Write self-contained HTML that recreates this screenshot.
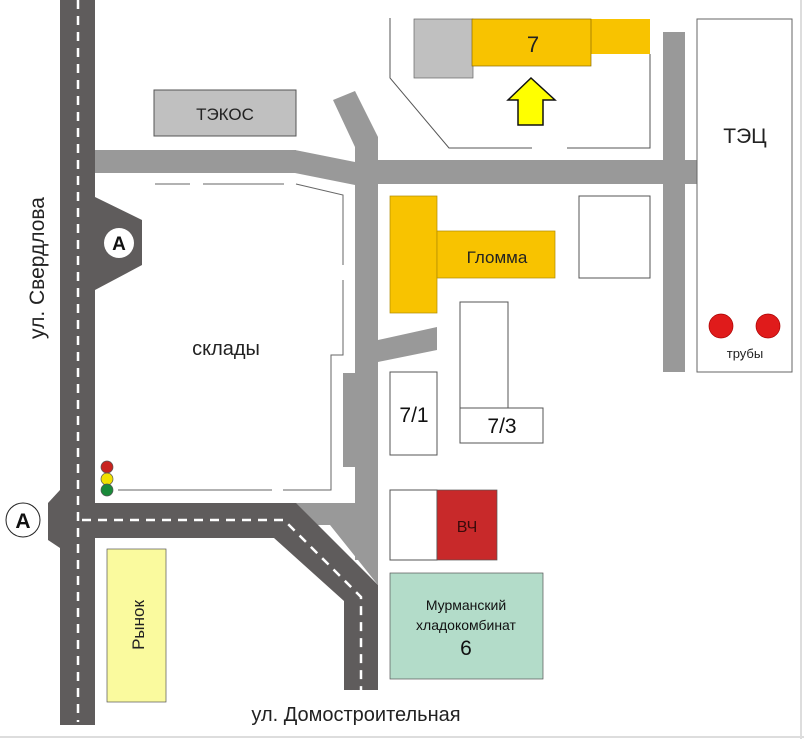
<!DOCTYPE html>
<html><head><meta charset="utf-8"><style>
html,body{margin:0;padding:0;background:#fff;width:804px;height:739px;overflow:hidden}
svg{display:block;font-family:"Liberation Sans",sans-serif}
</style></head><body>
<svg width="804" height="739" viewBox="0 0 804 739" xmlns="http://www.w3.org/2000/svg">
<rect x="0" y="0" width="804" height="739" fill="#fff"/>
<line x1="0" y1="737" x2="804" y2="737" stroke="#ddd" stroke-width="2"/>
<line x1="801" y1="0" x2="801" y2="739" stroke="#ddd" stroke-width="2"/>

<!-- light gray roads -->
<g fill="#999">
<rect x="95" y="150" width="201" height="23"/>
<polygon points="295,150 355,162 355,185 295,173"/>
<polygon points="333,100 355,91 378,137 378,560 355,560 355,147"/>
<rect x="378" y="160" width="342" height="24"/>
<rect x="663" y="32" width="22" height="340"/>
<polygon points="378,340 437,327 437,350 378,362"/>
<rect x="343" y="373" width="12" height="94"/>
<polygon points="295,503 378,503 378,585 330,525 295,525"/>
</g>

<!-- dark roads -->
<g fill="#5f5c5c">
<rect x="60" y="0" width="35" height="725"/>
<polygon points="60,490 48,503 48,540 60,548"/>
<polygon points="95,197 142,220 142,265 95,290"/>
<polygon points="95,503 296,503 378,585 378,690 344,690 344,601 274,538 95,538"/>
</g>
<g fill="none" stroke="#fff" stroke-width="2.5" stroke-dasharray="9,7">
<line x1="78" y1="0" x2="78" y2="722"/>
<polyline points="82,520 284,520 361,597 361,690"/>
</g>
<circle cx="119" cy="243" r="15" fill="#fff"/>
<text x="119" y="250" font-size="19" font-weight="bold" text-anchor="middle" fill="#111">А</text>
<circle cx="23" cy="520" r="17" fill="#fff" stroke="#222" stroke-width="1"/>
<text x="23" y="528" font-size="21" font-weight="bold" text-anchor="middle" fill="#111">А</text>

<!-- склады outline -->
<g fill="none" stroke="#666" stroke-width="1">
<line x1="155" y1="184" x2="190" y2="184"/>
<line x1="203" y1="184" x2="284" y2="184"/>
<polyline points="296,184 343,195 343,265"/>
<polyline points="343,280 343,355 331,355 331,490 283,490"/>
<line x1="272" y1="490" x2="118" y2="490"/>
</g>
<circle cx="107" cy="467" r="6" fill="#c8231f" stroke="#555" stroke-width="0.7"/>
<circle cx="107" cy="479" r="6" fill="#f2e100" stroke="#555" stroke-width="0.7"/>
<circle cx="107" cy="490" r="6" fill="#1a8a3a" stroke="#555" stroke-width="0.7"/>

<!-- buildings -->
<rect x="154" y="90" width="142" height="46" fill="#c0c0c0" stroke="#555"/>
<text x="225" y="120" font-size="17" text-anchor="middle" fill="#222">ТЭКОС</text>

<polyline points="390,18 390,78 449,148 532,148" fill="none" stroke="#555"/>
<polyline points="567,148 650,148 650,54" fill="none" stroke="#555"/>
<rect x="414" y="19" width="59" height="59" fill="#c0c0c0" stroke="#666" stroke-width="0.7"/>
<rect x="590" y="19" width="60" height="35" fill="#f8c300"/>
<rect x="472" y="19" width="119" height="47" fill="#f8c300" stroke="#8a6b00" stroke-width="0.7"/>
<text x="533" y="52" font-size="22" text-anchor="middle" fill="#222">7</text>
<polygon points="531,78 555,100 543,100 543,125 518,125 518,100 508,100" fill="#ffff00" stroke="#111" stroke-width="1.5"/>

<rect x="697" y="19" width="95" height="353" fill="#fff" stroke="#666"/>
<text x="745" y="143" font-size="21" text-anchor="middle" fill="#222">ТЭЦ</text>
<circle cx="721" cy="326" r="12" fill="#e01b1b" stroke="#a00" stroke-width="0.7"/>
<circle cx="768" cy="326" r="12" fill="#e01b1b" stroke="#a00" stroke-width="0.7"/>
<text x="745" y="358" font-size="13" text-anchor="middle" fill="#222">трубы</text>

<rect x="390" y="196" width="47" height="117" fill="#f8c300" stroke="#b08a00" stroke-width="0.7"/>
<rect x="437" y="231" width="118" height="47" fill="#f8c300" stroke="#b08a00" stroke-width="0.7"/>
<text x="497" y="263" font-size="17" text-anchor="middle" fill="#222">Гломма</text>
<rect x="579" y="196" width="71" height="82" fill="#fff" stroke="#555"/>

<rect x="460" y="302" width="48" height="106" fill="#fff" stroke="#555"/>
<rect x="460" y="408" width="83" height="35" fill="#fff" stroke="#555"/>
<text x="502" y="433" font-size="21" text-anchor="middle" fill="#111">7/3</text>
<rect x="390" y="372" width="47" height="83" fill="#fff" stroke="#555"/>
<text x="414" y="422" font-size="21" text-anchor="middle" fill="#111">7/1</text>

<rect x="390" y="490" width="47" height="70" fill="#fff" stroke="#555"/>
<rect x="437" y="490" width="60" height="70" fill="#c8292a" stroke="#555" stroke-width="0.7"/>
<text x="467" y="532" font-size="16" text-anchor="middle" fill="#3a0a0a">ВЧ</text>

<rect x="390" y="573" width="153" height="106" fill="#b3dcc9" stroke="#555" stroke-width="0.7"/>
<text x="466" y="610" font-size="14" text-anchor="middle" fill="#111">Мурманский</text>
<text x="466" y="630" font-size="14" text-anchor="middle" fill="#111">хладокомбинат</text>
<text x="466" y="655" font-size="21" text-anchor="middle" fill="#111">6</text>

<rect x="107" y="549" width="59" height="153" fill="#fafa9e" stroke="#555" stroke-width="0.7"/>
<text transform="translate(144,625) rotate(-90)" font-size="17" text-anchor="middle" fill="#222">Рынок</text>

<text transform="translate(44,268) rotate(-90)" font-size="21" text-anchor="middle" fill="#222">ул. Свердлова</text>
<text x="226" y="355" font-size="20" text-anchor="middle" fill="#222">склады</text>
<text x="356" y="721" font-size="20" text-anchor="middle" fill="#222">ул. Домостроительная</text>
</svg>
</body></html>
